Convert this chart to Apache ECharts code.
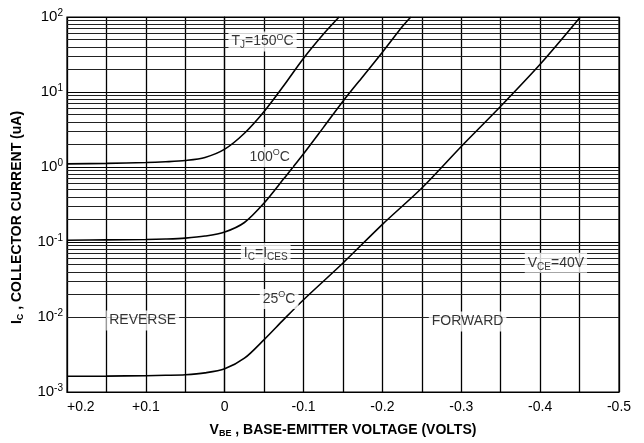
<!DOCTYPE html>
<html>
<head>
<meta charset="utf-8">
<script src="https://cdn.jsdelivr.net/npm/echarts@6/dist/echarts.min.js"></script>
<style>
html,body{margin:0;padding:0;background:#fff;}
#c{width:644px;height:443px;}
</style>
</head>
<body>
<div id="c"></div>
<script>
// ---- data (VBE in volts, IC in uA) ----
const curve150 = [[0.2,1.10],[0.15,1.117],[0.1,1.146],[0.075,1.175],[0.05,1.222],[0.025,1.34],[0,1.73],[-0.025,2.82],[-0.05,5.5],[-0.075,12.2],[-0.1,28.2],[-0.125,58.9],[-0.145,100]];
const curve100 = [[0.2,0.1054],[0.15,0.1067],[0.1,0.108],[0.075,0.1096],[0.05,0.1127],[0.025,0.120],[0,0.136],[-0.025,0.182],[-0.05,0.331],[-0.075,0.70],[-0.1,1.50],[-0.125,3.35],[-0.15,7.53],[-0.175,16.0],[-0.2,33.9],[-0.225,74],[-0.236,100]];
const curve25 = [[0.2,0.00162],[0.15,0.00163],[0.1,0.00165],[0.075,0.00167],[0.05,0.0017],[0.025,0.0018],[0,0.00204],[-0.025,0.00282],[-0.05,0.0050],[-0.075,0.0093],[-0.1,0.0170],[-0.15,0.0525],[-0.2,0.172],[-0.25,0.525],[-0.3,1.88],[-0.35,6.46],[-0.4,23.4],[-0.451,100]];
const decades = [0.001, 0.01, 0.1, 1, 10];
const minorMultipliers = [2,3,4,5,6,7,8,9];
const annotations = [
  {text:'{n|T}{sub|J}{n|=150}{sup|O}{n|C}', x:-0.048, y:47},
  {text:'{n|100}{sup|O}{n|C}', x:-0.057, y:1.36},
  {text:'{n|I}{sub|C}{n|=I}{sub|CES}', x:-0.052, y:0.0714},
  {text:'{n|25}{sup|O}{n|C}', x:-0.069, y:0.0174},
  {text:'{n|REVERSE}', x:0.104, y:0.009},
  {text:'{n|FORWARD}', x:-0.308, y:0.0087},
  {text:'{n|V}{sub|CE}{n|=40V}', x:-0.42, y:0.0528}
];

const FONT = 'Liberation Sans, Arial, sans-serif';
const minorLines = [];
decades.forEach(d => minorMultipliers.forEach(m => minorLines.push({yAxis: d*m})));

const chart = echarts.init(document.getElementById('c'));
const curveStyle = {color:'#000', width:1.6};
function curve(data){
  return {type:'line', data:data, showSymbol:false, smooth:0.3,
    lineStyle:curveStyle, itemStyle:{color:'#000'}, z:5, silent:true, clip:true};
}
const annRich = {
  n:{fontSize:14, fontFamily:FONT, color:'#000', lineHeight:18},
  sub:{fontSize:10, fontFamily:FONT, color:'#000', verticalAlign:'bottom', lineHeight:12, padding:[10,0,0,0]},
  sup:{fontSize:9, fontFamily:FONT, color:'#000', verticalAlign:'top', lineHeight:10, padding:[0,0,8,0]}
};

chart.setOption({
  animation:false,
  backgroundColor:'#fff',
  grid:{left:66, right:25, top:17, bottom:43, show:true, borderColor:'#000', borderWidth:1.2},
  xAxis:{
    type:'value', min:-0.5, max:0.2, interval:0.05, inverse:true,
    axisLine:{show:true, lineStyle:{color:'#000', width:1.2}},
    axisTick:{show:false},
    splitLine:{show:true, lineStyle:{color:'#000', width:1.3}},
    axisLabel:{
      fontSize:14, fontFamily:FONT, color:'#000', margin:8,
      alignMaxLabel:'left',
      formatter:function(v){
        const r = Math.round(v*100);
        if (r % 10 !== 0) return '';
        if (r === 0) return '0';
        const s = (Math.abs(r)/100).toFixed(1);
        return (r > 0 ? '+' : '-') + s;
      }
    },
    name:'{v|V}{sub|BE}{t| , BASE-EMITTER VOLTAGE (VOLTS)}',
    nameLocation:'middle', nameGap:30,
    nameTextStyle:{
      rich:{
        v:{fontSize:14, fontWeight:'bold', fontFamily:FONT, color:'#000', lineHeight:16},
        sub:{fontSize:9, fontWeight:'bold', fontFamily:FONT, color:'#000', verticalAlign:'bottom', lineHeight:10, padding:[8,0,0,0]},
        t:{fontSize:14, fontWeight:'bold', fontFamily:FONT, color:'#000', lineHeight:16}
      }
    }
  },
  yAxis:{
    type:'log', logBase:10, min:0.001, max:100,
    axisLine:{show:true, lineStyle:{color:'#000', width:1.2}},
    axisTick:{show:false},
    splitLine:{show:true, lineStyle:{color:'#000', width:1.2}},
    axisLabel:{
      margin:4,
      formatter:function(v){
        const e = Math.round(Math.log10(v));
        return '{b|10}{s|' + e + '}';
      },
      rich:{
        b:{fontSize:15, fontFamily:FONT, color:'#000', lineHeight:18},
        s:{fontSize:10, fontFamily:FONT, color:'#000', verticalAlign:'top', lineHeight:10, padding:[0,0,8,0]}
      }
    },
    name:'{v|I}{sub|C}{t| , COLLECTOR CURRENT (uA)}',
    nameLocation:'middle', nameGap:42, nameRotate:90,
    nameTextStyle:{
      padding:[0,26,0,0],
      rich:{
        v:{fontSize:14, fontWeight:'bold', fontFamily:FONT, color:'#000', lineHeight:16},
        sub:{fontSize:9, fontWeight:'bold', fontFamily:FONT, color:'#000', verticalAlign:'bottom', lineHeight:10, padding:[8,0,0,0]},
        t:{fontSize:14, fontWeight:'bold', fontFamily:FONT, color:'#000', lineHeight:16}
      }
    }
  },
  series:[
    {type:'line', data:[], z:1, silent:true,
      markLine:{silent:true, symbol:'none', label:{show:false}, animation:false,
        lineStyle:{color:'#222', width:1, type:'solid'}, data:minorLines}},
    curve(curve150),
    curve(curve100),
    curve(curve25),
    {type:'scatter', z:10, silent:true, symbolSize:0,
      data:annotations.map(a => ({value:[a.x, a.y], label:{formatter:a.text}})),
      label:{show:true, position:'inside', backgroundColor:'#fff', padding:[1,3,1,3], rich:annRich}
    }
  ]
});
</script>
</body>
</html>
